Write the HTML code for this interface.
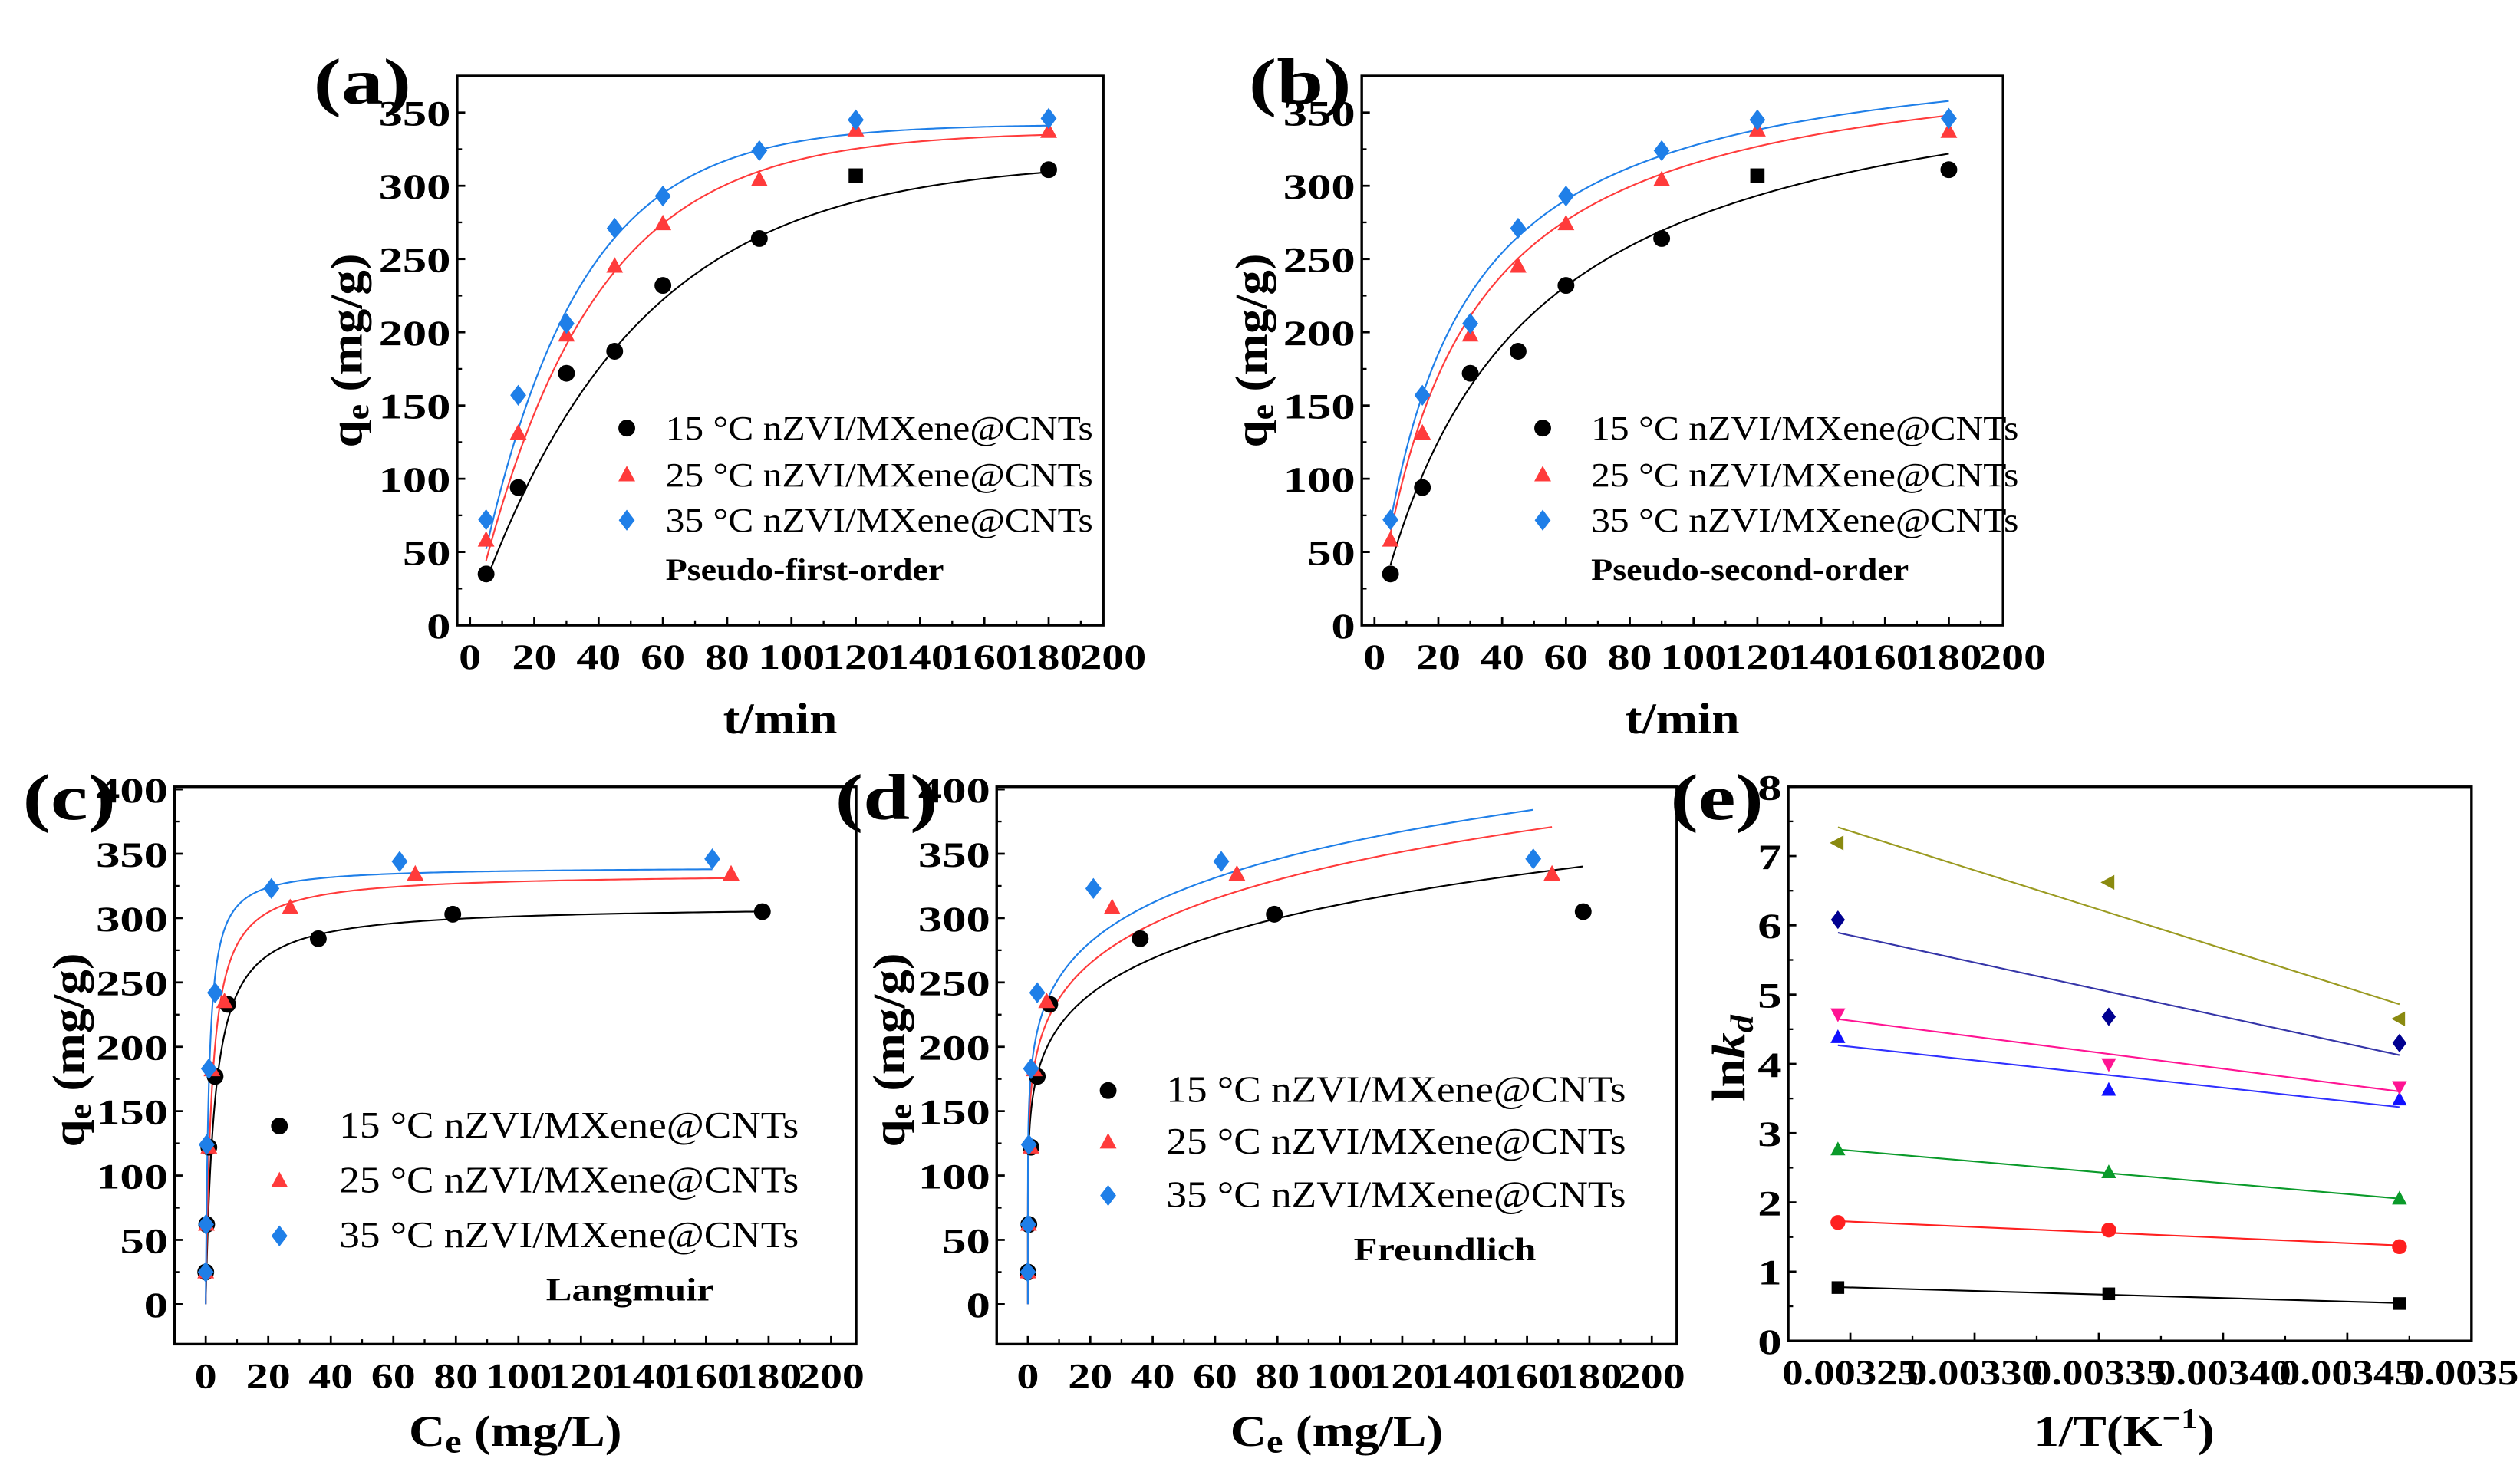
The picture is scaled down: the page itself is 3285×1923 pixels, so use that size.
<!DOCTYPE html>
<html><head><meta charset="utf-8"><style>
html,body{margin:0;padding:0;background:#fff}
svg{display:block}
svg text{font-family:"Liberation Serif",serif}
</style></head><body>
<svg id="fig" width="3285" height="1923" viewBox="0 0 1560 913" preserveAspectRatio="none" xmlns="http://www.w3.org/2000/svg" style="font-family:'Liberation Serif',serif"></svg>
<script>
// ---- data ----
const tKin = [5,15,30,45,60,90,120,180];
const kin15 = [35,94,172,187,232,264,307,311];
const kin25 = [58,131,198,245,274,304,338,337];
const kin35 = [72,157,206,271,293,324,345,346];
const pfoQe = [318,337,342];
const pfoK = [0.020,0.028,0.033];
const psoQe = [400,400,405];
const psoKQe = [0.0229,0.0372,0.0422];

const ce15 = [0,0.3,1,3,7,36,79,178];
const qiso15 = [25,62,122,177,233,284,303,305];
const ce25 = [0,0.2,1,2,6,27,67,168];
const qiso25 = [25,62,122,182,235,308,334,334];
const ce35 = [0,0.1,0.3,1,3,21,62,162];
const qiso35 = [25,62,124,183,242,323,344,346];
const langQm = [310,335,340];
const langKL = [0.35,0.5,1.0];
const freKF = [150,165,180];
const freN = [0.158,0.158,0.149];

const invT = [0.003245,0.003354,0.003471];
const lnkdBlack = [0.77,0.68,0.54];
const lnkdRed = [1.71,1.60,1.36];
const lnkdGreen = [2.76,2.43,2.05];
const lnkdBlue = [4.38,3.62,3.48];
const lnkdMagenta = [4.72,4.00,3.67];
const lnkdNavy = [6.08,4.68,4.30];
const lnkdOlive = [7.19,6.62,4.65];

const kinTicksX = [0,20,40,60,80,100,120,140,160,180,200];
const kinTicksY = [0,50,100,150,200,250,300,350];
const isoTicksX = [0,20,40,60,80,100,120,140,160,180,200];
const isoTicksY = [0,50,100,150,200,250,300,350,400];
const eTicksX = [0.00325,0.00330,0.00335,0.00340,0.00345,0.00350];
const eTicksY = [0,1,2,3,4,5,6,7,8];
const eTickLabelsX = ["0.00325","0.00330","0.00335","0.00340","0.00345","0.00350"];
const legendLabels = ["15 °C nZVI/MXene@CNTs","25 °C nZVI/MXene@CNTs","35 °C nZVI/MXene@CNTs"];

const NS="http://www.w3.org/2000/svg";
const svg=document.getElementById('fig');
function el(tag,attrs,parent){const e=document.createElementNS(NS,tag);for(const k in attrs)e.setAttribute(k,attrs[k]);(parent||svg).appendChild(e);return e;}
const C_BLACK="#000",C_RED="#ff3b3b",C_BLUE="#1f7fe8";

function marker(g,shape,x,y,color,s){
  s=s||5.2;let m;
  if(shape==='circle'){m=el('circle',{cx:x,cy:y,r:s,fill:color},g);}
  else if(shape==='square'){m=el('rect',{x:x-s*0.85,y:y-s*0.85,width:s*1.7,height:s*1.7,fill:color},g);}
  else if(shape==='tri'){m=el('polygon',{points:`${x},${y-s*1.1} ${x+s},${y+s*0.75} ${x-s},${y+s*0.75}`,fill:color},g);}
  else if(shape==='dtri'){m=el('polygon',{points:`${x},${y+s*1.1} ${x+s},${y-s*0.75} ${x-s},${y-s*0.75}`,fill:color},g);}
  else if(shape==='ltri'){m=el('polygon',{points:`${x-s*1.1},${y} ${x+s*0.75},${y-s} ${x+s*0.75},${y+s}`,fill:color},g);}
  else {m=el('polygon',{points:`${x},${y-s*1.25} ${x+s*0.95},${y} ${x},${y+s*1.25} ${x-s*0.95},${y}`,fill:color},g);}
  
  
  return m;
}

function makePanel(p){
  const g=el('g',{});
  
  
  const sx=v=>p.L+(v-p.xd[0])/(p.xd[1]-p.xd[0])*(p.R-p.L);
  const sy=v=>p.B-(v-p.yd[0])/(p.yd[1]-p.yd[0])*(p.B-p.T);
  p.sx=sx;p.sy=sy;p.g=g;
  const fr=el('rect',{x:p.L,y:p.T,width:p.R-p.L,height:p.B-p.T,fill:'none',stroke:'#000','stroke-width':1.6},g);
  
  const xt=p.xt;
  xt.forEach((v,i)=>{
    const x=sx(v);
    if(x>=p.L-0.5&&x<=p.R+0.5) el('line',{x1:x,y1:p.B,x2:x,y2:p.B-5,stroke:'#000','stroke-width':1.3},g);
    if(i<xt.length-1){const xm=sx((v+xt[i+1])/2);if(xm<=p.R)el('line',{x1:xm,y1:p.B,x2:xm,y2:p.B-3,stroke:'#000','stroke-width':1.1},g);}
    const t=el('text',{x:x,y:p.B+27,'font-size':p.xfs||22,'font-weight':'bold','text-anchor':'middle','data-stretch':p.xst||1.25},g);
    t.textContent=p.xl?p.xl[i]:v;
    
  });
  const yt=p.yt;
  yt.forEach((v,i)=>{
    const y=sy(v);
    el('line',{x1:p.L,y1:y,x2:p.L+5,y2:y,stroke:'#000','stroke-width':1.3},g);
    if(i<yt.length-1){const ym=sy((v+yt[i+1])/2);if(ym>=p.T)el('line',{x1:p.L,y1:ym,x2:p.L+3,y2:ym,stroke:'#000','stroke-width':1.1},g);}
    const t=el('text',{x:p.L-4,y:y+8,'font-size':22,'font-weight':'bold','text-anchor':'end','data-stretch':1.35},g);
    t.textContent=v;
    
  });
  return p;
}
function curve(p,f,x0,x1,color,n){
  n=n||200;let d='';
  for(let i=0;i<=n;i++){const x=x0+(x1-x0)*i/n;d+=(i?'L':'M')+p.sx(x).toFixed(2)+','+p.sy(f(x)).toFixed(2);}
  const c=el('path',{d:d,fill:'none',stroke:color,'stroke-width':1},p.g);
  
}
function text(x,y,s,fs,opts,name){
  const t=el('text',Object.assign({x:x,y:y,'font-size':fs},opts||{}));
  t.innerHTML=s;
  
  return t;
}
function legend(x,ys,labels,shapes,colors,fs,name,st,gap){
  const g=el('g',{});
  
  ys.forEach((y,i)=>{marker(g,shapes[i],x,y,colors[i]);const t=el('text',{x:x+gap,y:y+7,'font-size':fs,'data-stretch':st},g);t.textContent=labels[i];
    });
}
const cols=[C_BLACK,C_RED,C_BLUE];
const shapes=['circle','tri','diamond'];

// ---- (a) & (b) ----
[['a',283,683,'Pseudo-first-order',0],['b',843,1240,'Pseudo-second-order',1]].forEach(cfg=>{
  const p=makePanel({name:'panel-'+cfg[0],L:cfg[1],R:cfg[2],T:47,B:387,xd:[-4,197],yd:[0,375],xt:kinTicksX,yt:kinTicksY});
  for(let s=0;s<3;s++){
    let f;
    if(cfg[4]===0) f=t=>pfoQe[s]*(1-Math.exp(-pfoK[s]*t));
    else f=t=>psoQe[s]*psoKQe[s]*t/(1+psoKQe[s]*t);
    curve(p,f,5,180,cols[s]);
  }
  [kin15,kin25,kin35].forEach((arr,s)=>arr.forEach((v,i)=>{
    const shp=(s===0&&i===6)?'square':shapes[s];
    marker(p.g,shp,p.sx(tKin[i]),p.sy(v),cols[s]);
  }));
  const lx=cfg[0]==='a'?388:955;
  const gap=cfg[0]==='a'?24:30;
  legend(lx,[265,294,322],legendLabels,shapes,cols,21,'legend-'+cfg[0],1.12,gap);
  text(lx+gap,359,cfg[3],19,{'font-weight':'bold','data-stretch':1.15},'model-label');
  text((cfg[1]+cfg[2])/2,454,'t/min',27,{'font-weight':'bold','text-anchor':'middle','data-stretch':1.15},'x-axis-title');
  const yx=cfg[0]==='a'?224:784;
  text(0,0,'q<tspan font-size="20" dy="4">e</tspan><tspan dy="-4"> (mg/g)</tspan>',28,{'font-weight':'bold','text-anchor':'middle',transform:`translate(${yx},217) rotate(-90)`,'data-stretch':1.1},'y-axis-title');
  text(cfg[0]==='a'?194:773,64,'('+cfg[0]+')',40,{'font-weight':'bold','data-stretch':1.3},'panel-label');
});

// ---- (c) & (d) ----
[['c',108,530,'Langmuir',0],['d',617,1038,'Freundlich',1]].forEach(cfg=>{
  const p=makePanel({name:'panel-'+cfg[0],L:cfg[1],R:cfg[2],T:487,B:832,xd:[-10,208],yd:[-31,402],xt:isoTicksX,yt:isoTicksY});
  const ceMax=[Math.max(...ce15),Math.max(...ce25),Math.max(...ce35)];
  for(let s=0;s<3;s++){
    let f;
    if(cfg[4]===0) f=c=>langQm[s]*langKL[s]*c/(1+langKL[s]*c);
    else f=c=>c<=0?0:freKF[s]*Math.pow(c,freN[s]);
    let d='';const n=300;
    for(let i=0;i<=n;i++){const c=ceMax[s]*Math.pow(i/n,3);d+=(i?'L':'M')+p.sx(c).toFixed(2)+','+p.sy(f(c)).toFixed(2);}
    const cp=el('path',{d:d,fill:'none',stroke:cols[s],'stroke-width':1},p.g);
    
  }
  [[ce15,qiso15],[ce25,qiso25],[ce35,qiso35]].forEach((pr,s)=>pr[0].forEach((c,i)=>marker(p.g,shapes[s],p.sx(c),p.sy(pr[1][i]),cols[s])));
  if(cfg[0]==='c'){legend(173,[697,731,765],legendLabels,shapes,cols,23,'legend-c',1.1,37);text(338,805,'Langmuir',20,{'font-weight':'bold','data-stretch':1.2},'model-label');}
  else {legend(686,[675,707,740],legendLabels,shapes,cols,23,'legend-d',1.1,36);text(838,780,'Freundlich',20,{'font-weight':'bold','data-stretch':1.2},'model-label');}
  text((cfg[1]+cfg[2])/2,895,'C<tspan font-size="20" dy="4">e</tspan><tspan dy="-4"> (mg/L)</tspan>',27,{'font-weight':'bold','text-anchor':'middle','data-stretch':1.15},'x-axis-title');
  const yx=cfg[0]==='c'?52:560;
  text(0,0,'q<tspan font-size="20" dy="4">e</tspan><tspan dy="-4"> (mg/g)</tspan>',28,{'font-weight':'bold','text-anchor':'middle',transform:`translate(${yx},650) rotate(-90)`,'data-stretch':1.1},'y-axis-title');
  text(cfg[0]==='c'?14:517,507,'('+cfg[0]+')',40,{'font-weight':'bold','data-stretch':1.3},'panel-label');
});

// ---- (e) ----
(function(){
  const p=makePanel({name:'panel-e',L:1107,R:1530,T:487,B:830,xd:[0.003225,0.0035],yd:[0,8],xt:eTicksX,yt:eTicksY,xl:eTickLabelsX,xfs:22,xst:1.18});
  const series=[[lnkdBlack,'square','#000','#000'],[lnkdRed,'circle','#ff2020','#ff2020'],[lnkdGreen,'tri','#0a9a2a','#0a9a2a'],
    [lnkdBlue,'tri','#1010ff','#3030ff'],[lnkdMagenta,'dtri','#ff1493','#ff1493'],[lnkdNavy,'diamond','#000090','#3535a8'],[lnkdOlive,'ltri','#8a8a10','#9a9a20']];
  series.forEach(s=>{
    const ys=s[0];const n=invT.length;
    const mx=invT.reduce((a,b)=>a+b)/n,my=ys.reduce((a,b)=>a+b)/n;
    let num=0,den=0;for(let i=0;i<n;i++){num+=(invT[i]-mx)*(ys[i]-my);den+=(invT[i]-mx)**2;}
    const sl=num/den,ic=my-sl*mx;
    const ln=el('line',{x1:p.sx(invT[0]),y1:p.sy(ic+sl*invT[0]),x2:p.sx(invT[n-1]),y2:p.sy(ic+sl*invT[n-1]),stroke:s[3],'stroke-width':1},p.g);
    
    ys.forEach((v,i)=>marker(p.g,s[1],p.sx(invT[i]),p.sy(v),s[2],4.6));
  });
  text(1315,895,'1/T(K<tspan font-size="18" dy="-11">−1</tspan><tspan dy="11">)</tspan>',27,{'font-weight':'bold','text-anchor':'middle','data-stretch':1.15},'x-axis-title');
  text(0,0,'ln<tspan font-style="italic">k</tspan><tspan font-style="italic" font-size="20" dy="5">d</tspan>',29,{'font-weight':'bold','text-anchor':'middle',transform:'translate(1080,655) rotate(-90)','data-stretch':1.1},'y-axis-title');
  text(1034,507,'(e)',40,{'font-weight':'bold','data-stretch':1.3},'panel-label');
})();

// horizontal stretch to mimic reference proportions
document.querySelectorAll('text[data-stretch]').forEach(t=>{
  const f=parseFloat(t.getAttribute('data-stretch'));
  if(!f||f===1)return;
  const L=t.getComputedTextLength();
  if(L>0){t.setAttribute('textLength',(L*f).toFixed(1));t.setAttribute('lengthAdjust','spacingAndGlyphs');}
});
</script>
</body></html>
